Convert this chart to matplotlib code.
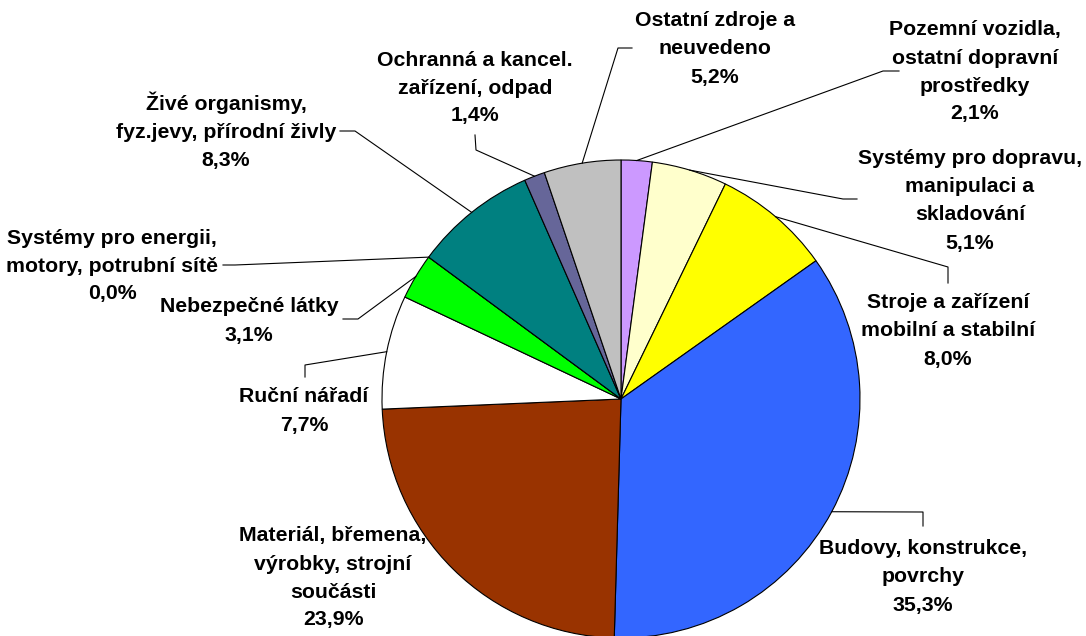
import numpy as np
import matplotlib
matplotlib.use("Agg")
import matplotlib.pyplot as plt

# Sources of workplace injuries, share of all cases (%)
categories = [
    "Pozemní vozidla,\nostatní dopravní\nprostředky",
    "Systémy pro dopravu,\nmanipulaci a\nskladování",
    "Stroje a zařízení\nmobilní a stabilní",
    "Budovy, konstrukce,\npovrchy",
    "Materiál, břemena,\nvýrobky, strojní\nsoučásti",
    "Ruční nářadí",
    "Nebezpečné látky",
    "Systémy pro energii,\nmotory, potrubní sítě",
    "Živé organismy,\nfyz.jevy, přírodní živly",
    "Ochranná a kancel.\nzařízení, odpad",
    "Ostatní zdroje a\nneuvedeno",
]
shares = [2.1, 5.1, 8.0, 35.3, 23.9, 7.7, 3.1, 0.0, 8.3, 1.4, 5.2]
colors = ["#CC99FF", "#FFFFCC", "#FFFF00", "#3366FF", "#993300", "#FFFFFF",
          "#00FF00", "#00FFFF", "#008080", "#666699", "#C0C0C0"]

W, H = 1086, 636
CX, CY, R = 621, 399, 239

# label block centres and leader bend points, in pixels from the top-left
label_pos = [(975, 72), (970, 201), (948, 331), (923, 577), (333, 578),
             (304, 411), (249, 321), (112, 266), (226, 131), (475, 88), (715, 49)]
leaders = [
    [(883, 71), (899, 71)],
    [(843, 199), (857, 199)],
    [(948, 267), (948, 283)],
    [(923, 512), (923, 526)],
    [],
    [(305, 365), (305, 377)],
    [(358, 319), (343, 319)],
    [(235, 265), (223, 265)],
    [(355, 131), (340, 131)],
    [(476, 150), (475, 135)],
    [(618, 48), (632, 48)],
]

plt.rcParams["font.family"] = ["Liberation Sans", "DejaVu Sans"]

fig = plt.figure(figsize=(W / 100, H / 100), dpi=100)
ax = fig.add_axes([0, 0, 1, 1])

wedges, _ = ax.pie(shares, colors=colors, startangle=90, counterclock=False,
                   center=(CX, H - CY), radius=R,
                   wedgeprops=dict(edgecolor="black", linewidth=0.8))
ax.set_xlim(0, W)
ax.set_ylim(0, H)
ax.set_aspect("equal")
ax.axis("off")

for w, name, val, (lx, ly), bends in zip(wedges, categories, shares, label_pos, leaders):
    if bends:
        mid = np.deg2rad((w.theta1 + w.theta2) / 2)
        pts = [(CX + R * np.cos(mid), H - CY + R * np.sin(mid))]
        pts += [(bx, H - by) for bx, by in bends]
        xs, ys = zip(*pts)
        ax.plot(xs, ys, color="black", lw=0.8, zorder=3, clip_on=False)
    pct = f"{val:.1f}%".replace(".", ",")
    ax.text(lx, H - ly, f"{name}\n{pct}", ha="center", va="center",
            fontsize=15.3, fontweight="bold", linespacing=1.6, zorder=4)

fig.savefig("out.png", dpi=100)
